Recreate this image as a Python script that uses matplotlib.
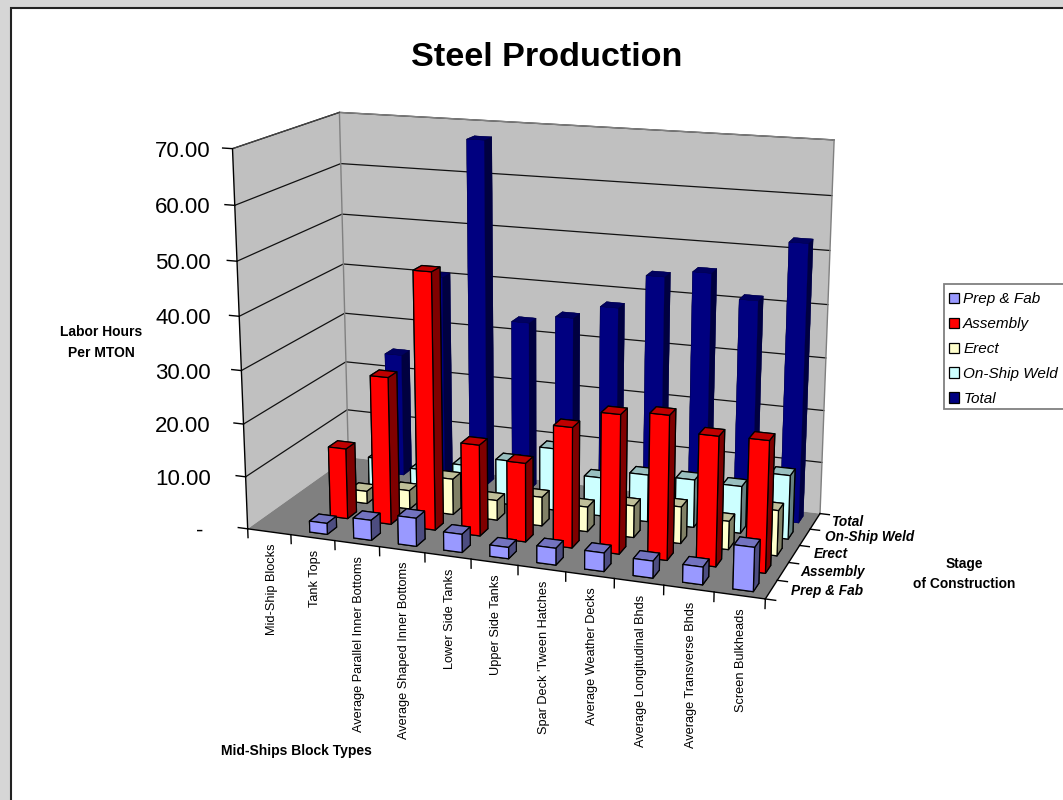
import numpy as np
import matplotlib
matplotlib.use("Agg")
import matplotlib.pyplot as plt
from matplotlib.patches import Rectangle, Patch
from mpl_toolkits.mplot3d import proj3d
from mpl_toolkits.mplot3d.art3d import Poly3DCollection

plt.rcParams['font.family'] = ['Liberation Sans', 'DejaVu Sans']

categories = ["Mid-Ship Blocks", "Tank Tops", "Average Parallel Inner Bottoms",
              "Average Shaped Inner Bottoms", "Lower Side Tanks", "Upper Side Tanks",
              "Spar Deck 'Tween Hatches", "Average Weather Decks",
              "Average Longitudinal Bhds", "Average Transverse Bhds", "Screen Bulkheads"]
series_names = ["Prep & Fab", "Assembly", "Erect", "On-Ship Weld", "Total"]
prep = [0, 2.1, 3.8, 5.3, 3.4, 2.1, 3.1, 3.4, 3.1, 3.2, 7.9]
assembly = [0, 13.5, 28.0, 48.2, 17.2, 14.8, 22.4, 25.7, 26.5, 23.7, 23.9]
erect = [0, 2.4, 3.6, 6.9, 3.8, 5.5, 4.7, 6.0, 6.9, 5.3, 8.4]
weld = [0, 6.0, 4.8, 6.7, 8.6, 12.0, 7.4, 9.0, 9.1, 8.9, 12.0]
total = [0, 24.4, 40.6, 67.4, 33.2, 34.9, 37.6, 44.2, 45.6, 41.2, 52.4]
series_values = [prep, assembly, erect, weld, total]
z_ticks = [0, 10, 20, 30, 40, 50, 60, 70]
z_tick_labels = ["-", "10.00", "20.00", "30.00", "40.00", "50.00", "60.00", "70.00"]

# front, top and side shades: (bottom, top, front, back, left, right)
face_sets = [
    ("#9999FF", "#7373BF", "#4D4D80"),
    ("#FF0000", "#BF0000", "#800000"),
    ("#FFFFCC", "#BFBF99", "#808066"),
    ("#CCFFFF", "#99BFBF", "#668080"),
    ("#000080", "#000060", "#000040"),
]

W, H = 1063, 800
fig = plt.figure(figsize=(W / 100, H / 100), dpi=100, facecolor="#D6D6D6")
fig.patches.append(Rectangle((10.5 / W, -0.01), 1.1, 1 - 7.5 / H + 0.01, transform=fig.transFigure,
                             facecolor="white", edgecolor="#222222", linewidth=1.5, zorder=-5))
fig.patches.append(Rectangle((944 / W, 1 - 409 / H), 0.2, 125 / H, transform=fig.transFigure,
                             facecolor="white", edgecolor="#808080", linewidth=1.3, zorder=-4))

# Camera calibrated from the chart box corners (data x, y, z -> image pixels)
nx, ny, nz = len(categories), len(series_names), 70
calib = [((0, 0, 0), (248, 528)), ((nx, 0, 0), (765.5, 599.5)), ((nx, ny, 0), (820, 513)),
         ((0, ny, 0), (348, 458)), ((0, ny, nz), (340, 112)), ((nx, ny, nz), (834, 140)),
         ((0, 0, nz), (232, 149))]
A, b = [], []
for (X, Y, Z), (u, v) in calib:
    A.append([X, Y, Z, 1, 0, 0, 0, 0, -u * X, -u * Y, -u * Z]); b.append(u)
    A.append([0, 0, 0, 0, X, Y, Z, 1, -v * X, -v * Y, -v * Z]); b.append(v)
p = np.linalg.lstsq(np.array(A, float), np.array(b, float), rcond=None)[0]
M = np.array([[p[0], p[1], p[2], p[3]],
              [p[4], p[5], p[6], p[7]],
              [0, 0, 0, -1.0],
              [p[8], p[9], p[10], 1.0]])

ax = fig.add_axes([0, 0, 1, 1], projection="3d", computed_zorder=False)
ax.set_proj_type("ortho")  # stops Line3D clipping to the [-1, 1] view cube
ax.get_proj = lambda: M
ax.apply_aspect = lambda position=None: None
ax.M = M
ax.set_axis_off()
ax.patch.set_visible(False)
ax.viewLim.intervalx = (0, W)
ax.viewLim.intervaly = (H, 0)


def pt(x, y, z):
    u, v, _ = proj3d.proj_transform(x, y, z, M)
    return float(u), float(v)


def quad(corners, color, zorder):
    ax.add_collection3d(Poly3DCollection([corners], facecolor=color, edgecolor="none",
                                         linewidth=0, zorder=zorder))


quad([(0, 0, 0), (0, ny, 0), (0, ny, nz), (0, 0, nz)], "#C0C0C0", 1)
quad([(0, ny, 0), (nx, ny, 0), (nx, ny, nz), (0, ny, nz)], "#C0C0C0", 1)
quad([(0, 0, 0), (nx, 0, 0), (nx, ny, 0), (0, ny, 0)], "#808080", 2)

gline = dict(color="#111111", linewidth=0.9, zorder=3)
for z in z_ticks[1:]:
    ax.plot([0, 0, nx], [0, ny, ny], [z, z, z], **gline)
edge = dict(color="#808080", linewidth=1.0, zorder=3)
ax.plot([0, 0], [ny, ny], [0, nz], **edge)
ax.plot([nx, nx], [ny, ny], [0, nz], **edge)
ax.plot([0, nx], [ny, ny], [nz, nz], **edge)
ax.plot([0, 0], [0, ny], [nz, nz], color="#444444", linewidth=0.9, zorder=3)

blk = dict(color="black", linewidth=1.0, zorder=4)
ax.plot([0, 0], [0, 0], [0, nz], **blk)
ax.plot([0, nx], [0, 0], [0, 0], **blk)
ax.plot([nx, nx], [0, ny], [0, 0], **blk)
for z, lab in zip(z_ticks, z_tick_labels):
    ax.plot([-0.22, 0], [0, 0], [z, z], **blk)
    ax.text2D(211 if z else 203, pt(0, 0, z)[1] + 2.5, lab, transform=ax.transData, ha="right",
              va="center", fontsize=16)
for i in range(nx + 1):
    ax.plot([i, i], [0, 0], [0, -1.7], **blk)
for s in range(ny + 1):
    ax.plot([nx, nx + 0.2], [s, s], [0, 0], **blk)

# Bars: back row first, left to right inside a row
zo = 10
for s in range(ny - 1, -1, -1):
    front, top, side = face_sets[s]
    for i in range(nx):
        v = series_values[s][i]
        if v <= 0:
            continue
        ec = "black" if s != 4 else "#000040"
        bar = ax.bar3d(i + 0.3, s + 0.275, 0, 0.4, 0.45, v,
                       color=[front, top, front, front, side, side], shade=False,
                       edgecolor=ec, linewidth=0.9 if s != 4 else 0.2)
        bar.set_zorder(zo)
        zo += 1

for i, lab in enumerate(categories):
    u, v = pt(i + 0.5, 0, -2.3)
    ax.text2D(u + 2, v, lab, transform=ax.transData, rotation=90, ha="center", va="top", fontsize=9.2)

series_label_pos = [(827, 591), (833, 572), (831, 554), (870, 537), (847, 522)]
for lab, (u, v) in zip(series_names, series_label_pos):
    ax.text2D(u, v, lab, transform=ax.transData, ha="center", va="center", fontsize=9.8,
              fontweight="bold", fontstyle="italic")

ax.text2D(547, 58, "Steel Production", transform=ax.transData, ha="center", va="center",
          fontsize=24.6, fontweight="bold")
ax.text2D(101, 342.5, "Labor Hours\nPer MTON", transform=ax.transData, ha="center", va="center",
          fontsize=10, fontweight="bold", linespacing=1.55)
ax.text2D(964, 574, "Stage\nof Construction", transform=ax.transData, ha="center", va="center",
          fontsize=9.9, fontweight="bold", linespacing=1.55)
ax.text2D(296.5, 751, "Mid-Ships Block Types", transform=ax.transData, ha="center", va="center",
          fontsize=10, fontweight="bold")

handles = [Patch(facecolor=f[0], edgecolor="black", linewidth=0.9) for f in face_sets]
leg = fig.legend(handles, series_names, loc="upper left",
                 bbox_to_anchor=(941 / W, 1 - 284 / H), bbox_transform=fig.transFigure,
                 prop={"size": 11, "style": "italic"}, frameon=False,
                 handlelength=0.65, handleheight=0.65, handletextpad=0.25,
                 labelspacing=0.71, borderpad=0.55, borderaxespad=0)

fig.savefig("out.png", dpi=100, facecolor=fig.get_facecolor())
